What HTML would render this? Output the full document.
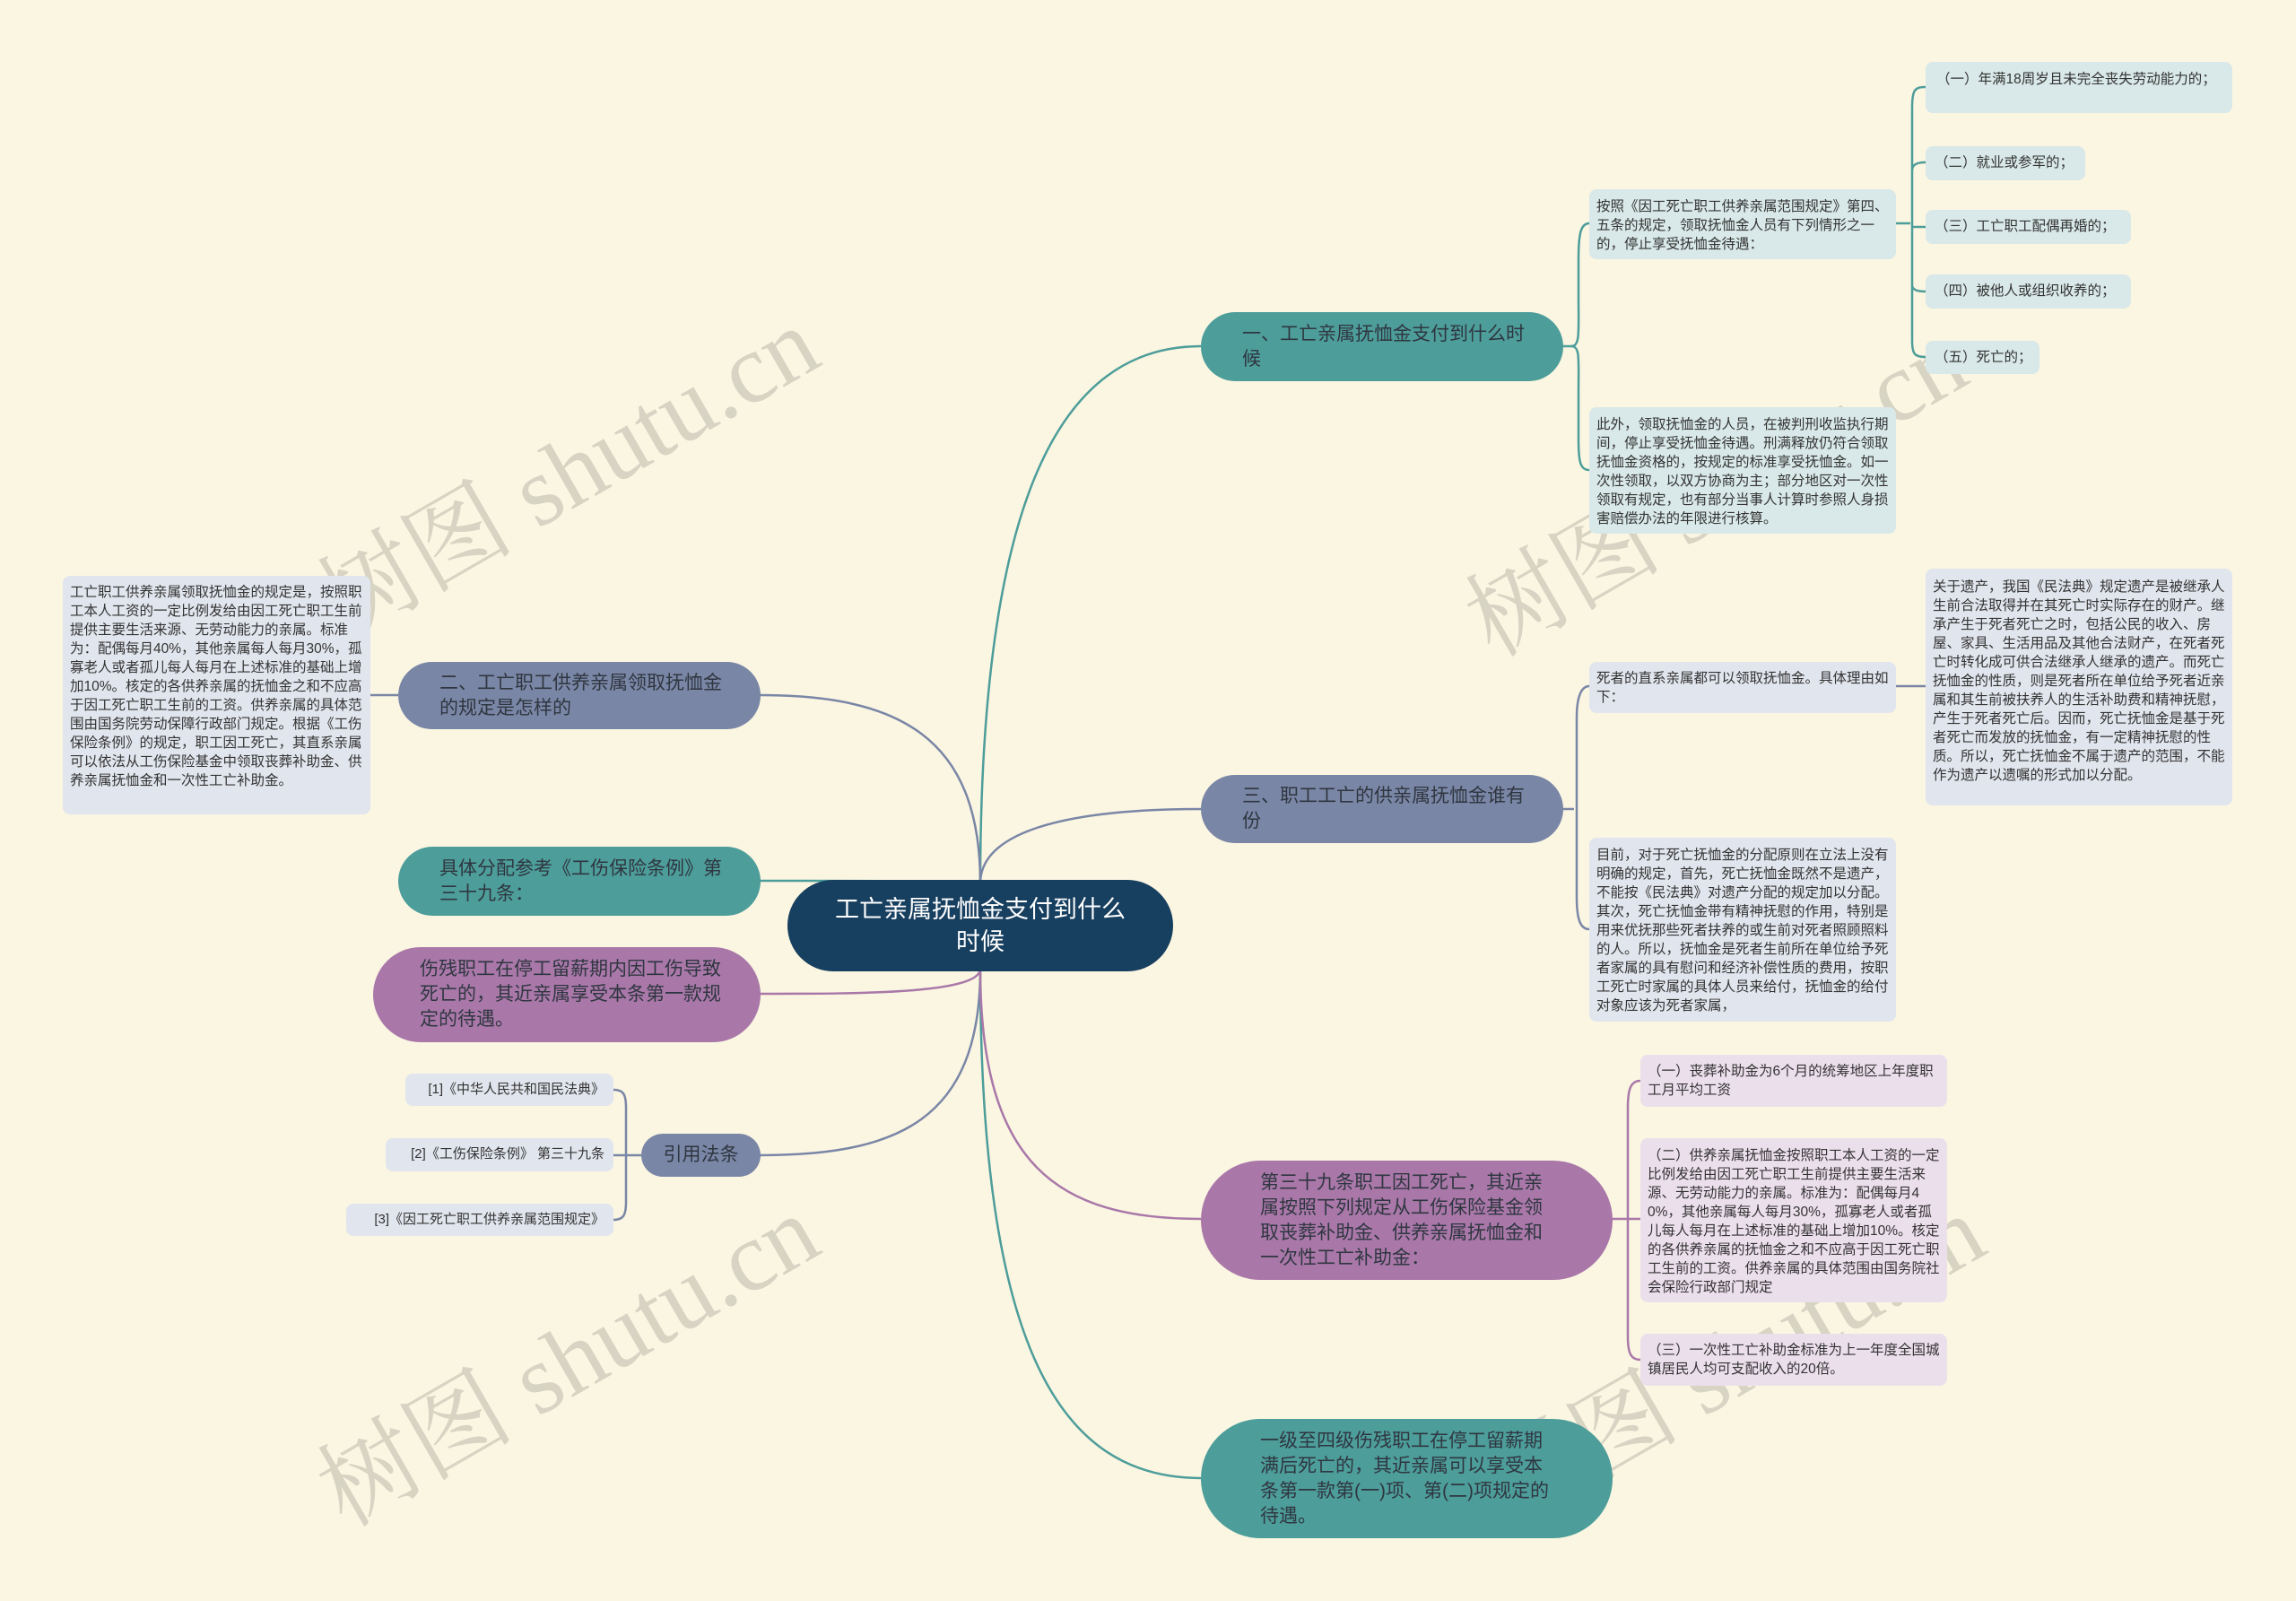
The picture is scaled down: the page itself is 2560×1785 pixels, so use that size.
<!DOCTYPE html>
<html><head><meta charset="utf-8"><style>
html,body{margin:0;padding:0}
body{width:2560px;height:1785px;background:#fbf6e2;position:relative;overflow:hidden;font-family:"Liberation Sans","Noto Sans CJK SC",sans-serif}
.n{position:absolute;box-sizing:border-box;color:#2f3640}
.big{border-radius:999px;font-size:21px;line-height:28px;display:flex;align-items:center;padding:0 40px 0 46px}
.box{border-radius:8px;font-size:15.5px;line-height:21px;padding:6px 8px;color:#333;word-break:break-all}
.nw{white-space:nowrap;word-break:normal}
.t{background:#4d9d9a}.s{background:#7a86a6}.p{background:#a978a9}
.bl{background:#d9e8e8}.bg{background:#e1e5ed}.bp{background:#ecdfec}
.wm{position:absolute;font-size:110px;color:rgba(150,150,140,0.35);font-family:"Liberation Serif","Noto Serif CJK SC",serif;transform:rotate(-30deg);white-space:nowrap}
</style></head><body>
<svg width="2560" height="1785" style="position:absolute;left:0;top:0" fill="none" stroke-width="2.5">
<g stroke="#4d9d9a">
<path d="M1093,985 C1093,560 1180,386 1339,386"/>
<path d="M1093,1080 C1093,1500 1180,1648 1339,1648"/>
<path d="M1093,985 C1093,982 960,982 847,982"/>
<path d="M1742,386 L1752,386 C1762,386 1760,370 1760,330 L1760,290 C1760,262 1762,249 1772,249"/>
<path d="M1752,386 C1762,386 1760,400 1760,440 L1760,490 C1760,515 1762,524 1772,524"/>
<path d="M2114,249 L2130,249"/>
<path d="M2147,97 C2135,97 2132,100 2132,120 L2132,380 C2132,395 2135,398 2147,398"/>
<path d="M2132,190 C2132,183 2138,181 2147,181"/>
<path d="M2132,253 L2147,253"/>
<path d="M2132,318 C2132,323 2138,325 2147,325"/>
</g>
<g stroke="#7a86a6">
<path d="M1093,985 C1093,930 1180,902 1339,902"/>
<path d="M1093,985 C1093,820 1000,775 847,775"/>
<path d="M1093,1080 C1093,1250 1000,1288 847,1288"/>
<path d="M444,775 L413,775"/>
<path d="M715,1288 L684,1288"/>
<path d="M684,1215 C695,1215 698,1220 698,1235 L698,1340 C698,1355 695,1360 684,1360"/>
<path d="M1742,902 L1755,902"/>
<path d="M1772,765 C1762,765 1758,780 1758,800 L1758,1000 C1758,1025 1762,1036 1772,1036"/>
<path d="M2114,765 L2147,765"/>
</g>
<g stroke="#a978a9">
<path d="M1093,1080 C1093,1300 1180,1359 1339,1359"/>
<path d="M1093,1080 C1093,1108 960,1108 847,1108"/>
<path d="M1796,1359 L1829,1359"/>
<path d="M1829,1205 C1818,1205 1815,1215 1815,1235 L1815,1490 C1815,1508 1818,1516 1829,1516"/>
</g>
</svg>

<div class="wm" style="left:320px;top:440px">树图 shutu.cn</div>
<div class="wm" style="left:1600px;top:460px">树图 shutu.cn</div>
<div class="wm" style="left:320px;top:1430px">树图 shutu.cn</div>
<div class="wm" style="left:1620px;top:1430px">树图 shutu.cn</div>

<div class="n" style="left:878px;top:981px;width:430px;height:102px;border-radius:999px;background:#173f5f;color:#fff;font-size:27px;line-height:36px;display:flex;align-items:center;justify-content:center;text-align:center;padding:0 40px">工亡亲属抚恤金支付到什么时候</div>

<div class="n big t" style="left:1339px;top:348px;width:404px;height:77px">一、工亡亲属抚恤金支付到什么时候</div>
<div class="n box bl" style="left:1772px;top:211px;width:342px;height:78px;padding-top:9px">按照《因工死亡职工供养亲属范围规定》第四、五条的规定，领取抚恤金人员有下列情形之一的，停止享受抚恤金待遇：</div>
<div class="n box bl" style="left:2147px;top:69px;width:342px;height:57px;padding:9px 12px">（一）年满18周岁且未完全丧失劳动能力的；</div>
<div class="n box bl nw" style="left:2147px;top:163px;width:178px;height:38px;padding:8px 10px">（二）就业或参军的；</div>
<div class="n box bl nw" style="left:2147px;top:234px;width:229px;height:38px;padding:8px 10px">（三）工亡职工配偶再婚的；</div>
<div class="n box bl nw" style="left:2147px;top:306px;width:229px;height:38px;padding:8px 10px">（四）被他人或组织收养的；</div>
<div class="n box bl nw" style="left:2147px;top:380px;width:127px;height:37px;padding:8px 10px">（五）死亡的；</div>
<div class="n box bl" style="left:1772px;top:454px;width:342px;height:141px;padding-top:9px">此外，领取抚恤金的人员，在被判刑收监执行期间，停止享受抚恤金待遇。刑满释放仍符合领取抚恤金资格的，按规定的标准享受抚恤金。如一次性领取，以双方协商为主；部分地区对一次性领取有规定，也有部分当事人计算时参照人身损害赔偿办法的年限进行核算。</div>

<div class="n big s" style="left:1339px;top:864px;width:404px;height:76px">三、职工工亡的供亲属抚恤金谁有份</div>
<div class="n box bg" style="left:1772px;top:738px;width:342px;height:57px;padding-top:8px">死者的直系亲属都可以领取抚恤金。具体理由如下：</div>
<div class="n box bg" style="left:2147px;top:634px;width:342px;height:264px;padding-top:10px">关于遗产，我国《民法典》规定遗产是被继承人生前合法取得并在其死亡时实际存在的财产。继承产生于死者死亡之时，包括公民的收入、房屋、家具、生活用品及其他合法财产，在死者死亡时转化成可供合法继承人继承的遗产。而死亡抚恤金的性质，则是死者所在单位给予死者近亲属和其生前被扶养人的生活补助费和精神抚慰，产生于死者死亡后。因而，死亡抚恤金是基于死者死亡而发放的抚恤金，有一定精神抚慰的性质。所以，死亡抚恤金不属于遗产的范围，不能作为遗产以遗嘱的形式加以分配。</div>
<div class="n box bg" style="left:1772px;top:934px;width:342px;height:205px;padding-top:9px">目前，对于死亡抚恤金的分配原则在立法上没有明确的规定，首先，死亡抚恤金既然不是遗产，不能按《民法典》对遗产分配的规定加以分配。其次，死亡抚恤金带有精神抚慰的作用，特别是用来优抚那些死者扶养的或生前对死者照顾照料的人。所以，抚恤金是死者生前所在单位给予死者家属的具有慰问和经济补偿性质的费用，按职工死亡时家属的具体人员来给付，抚恤金的给付对象应该为死者家属，</div>

<div class="n big p" style="left:1339px;top:1294px;width:459px;height:133px;padding-left:66px;padding-right:70px">第三十九条职工因工死亡，其近亲属按照下列规定从工伤保险基金领取丧葬补助金、供养亲属抚恤金和一次性工亡补助金：</div>
<div class="n box bp" style="left:1829px;top:1176px;width:342px;height:58px;padding-top:8px">（一）丧葬补助金为6个月的统筹地区上年度职工月平均工资</div>
<div class="n box bp" style="left:1829px;top:1269px;width:342px;height:183px;padding-top:9px">（二）供养亲属抚恤金按照职工本人工资的一定比例发给由因工死亡职工生前提供主要生活来源、无劳动能力的亲属。标准为：配偶每月40%，其他亲属每人每月30%，孤寡老人或者孤儿每人每月在上述标准的基础上增加10%。核定的各供养亲属的抚恤金之和不应高于因工死亡职工生前的工资。供养亲属的具体范围由国务院社会保险行政部门规定</div>
<div class="n box bp" style="left:1829px;top:1487px;width:342px;height:58px;padding-top:8px">（三）一次性工亡补助金标准为上一年度全国城镇居民人均可支配收入的20倍。</div>

<div class="n big t" style="left:1339px;top:1582px;width:459px;height:133px;padding-left:66px;padding-right:70px">一级至四级伤残职工在停工留薪期满后死亡的，其近亲属可以享受本条第一款第(一)项、第(二)项规定的待遇。</div>

<div class="n big s" style="left:444px;top:738px;width:404px;height:75px">二、工亡职工供养亲属领取抚恤金的规定是怎样的</div>
<div class="n box bg" style="left:70px;top:642px;width:343px;height:266px;padding-top:8px">工亡职工供养亲属领取抚恤金的规定是，按照职工本人工资的一定比例发给由因工死亡职工生前提供主要生活来源、无劳动能力的亲属。标准为：配偶每月40%，其他亲属每人每月30%，孤寡老人或者孤儿每人每月在上述标准的基础上增加10%。核定的各供养亲属的抚恤金之和不应高于因工死亡职工生前的工资。供养亲属的具体范围由国务院劳动保障行政部门规定。根据《工伤保险条例》的规定，职工因工死亡，其直系亲属可以依法从工伤保险基金中领取丧葬补助金、供养亲属抚恤金和一次性工亡补助金。</div>
<div class="n big t" style="left:444px;top:944px;width:404px;height:77px">具体分配参考《工伤保险条例》第三十九条：</div>
<div class="n big p" style="left:416px;top:1056px;width:432px;height:106px;padding-left:52px">伤残职工在停工留薪期内因工伤导致死亡的，其近亲属享受本条第一款规定的待遇。</div>
<div class="n big s" style="left:715px;top:1264px;width:133px;height:48px;padding:0;justify-content:center;font-size:21px">引用法条</div>
<div class="n box bg nw" style="left:452px;top:1197px;width:232px;height:36px;padding:7px 10px;text-align:right;font-size:15px">[1]《中华人民共和国民法典》</div>
<div class="n box bg nw" style="left:430px;top:1269px;width:254px;height:37px;padding:7px 10px;text-align:right;font-size:15px">[2]《工伤保险条例》 第三十九条</div>
<div class="n box bg nw" style="left:386px;top:1342px;width:298px;height:36px;padding:7px 10px;text-align:right;font-size:15px">[3]《因工死亡职工供养亲属范围规定》</div>
</body></html>
